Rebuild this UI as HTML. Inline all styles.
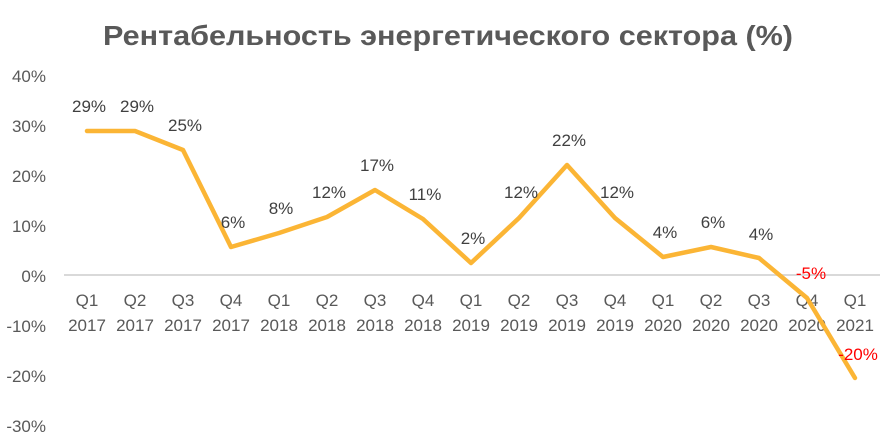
<!DOCTYPE html>
<html><head><meta charset="utf-8"><style>
body{margin:0;background:#fff;width:888px;height:442px;overflow:hidden}
svg text{font-family:"Liberation Sans",sans-serif}
</style></head><body>
<svg width="888" height="442" viewBox="0 0 888 442" xmlns="http://www.w3.org/2000/svg">
<text x="448" y="45" text-anchor="middle" font-size="28" font-weight="bold" fill="#595959" textLength="690" lengthAdjust="spacingAndGlyphs">Рентабельность энергетического сектора (%)</text>
<g font-size="17" fill="#595959" text-anchor="end">
<text x="46" y="82">40%</text><text x="46" y="132">30%</text><text x="46" y="182">20%</text><text x="46" y="232">10%</text><text x="46" y="282">0%</text><text x="46" y="332">-10%</text><text x="46" y="382">-20%</text><text x="46" y="432">-30%</text>
</g>
<line x1="64" y1="275" x2="880" y2="275" stroke="#d9d9d9" stroke-width="2"/>
<g font-size="17" fill="#595959" text-anchor="middle">
<text x="87" y="306">Q1</text><text x="87" y="331">2017</text>
<text x="135" y="306">Q2</text><text x="135" y="331">2017</text>
<text x="183" y="306">Q3</text><text x="183" y="331">2017</text>
<text x="231" y="306">Q4</text><text x="231" y="331">2017</text>
<text x="279" y="306">Q1</text><text x="279" y="331">2018</text>
<text x="327" y="306">Q2</text><text x="327" y="331">2018</text>
<text x="375" y="306">Q3</text><text x="375" y="331">2018</text>
<text x="423" y="306">Q4</text><text x="423" y="331">2018</text>
<text x="471" y="306">Q1</text><text x="471" y="331">2019</text>
<text x="519" y="306">Q2</text><text x="519" y="331">2019</text>
<text x="567" y="306">Q3</text><text x="567" y="331">2019</text>
<text x="615" y="306">Q4</text><text x="615" y="331">2019</text>
<text x="663" y="306">Q1</text><text x="663" y="331">2020</text>
<text x="711" y="306">Q2</text><text x="711" y="331">2020</text>
<text x="759" y="306">Q3</text><text x="759" y="331">2020</text>
<text x="807" y="306">Q4</text><text x="807" y="331">2020</text>
<text x="855" y="306">Q1</text><text x="855" y="331">2021</text>
</g>
<polyline fill="none" stroke="#FBB535" stroke-width="4.5" stroke-linejoin="round" stroke-linecap="round"
points="87,131 135,131 183,150 231,247 279,233 327,217 375,190 423,219 471,263 519,218 567,165 615,218 663,257 711,247 759,258 807,298 855,378"/>
<g font-size="17" fill="#404040" text-anchor="middle">
<text x="89" y="112">29%</text><text x="137" y="112">29%</text><text x="185" y="131">25%</text>
<text x="233" y="228">6%</text><text x="281" y="214">8%</text><text x="329" y="198">12%</text>
<text x="377" y="171">17%</text><text x="425" y="200">11%</text><text x="473" y="244">2%</text>
<text x="521" y="198">12%</text><text x="569" y="146">22%</text><text x="617" y="198">12%</text>
<text x="665" y="238">4%</text><text x="713" y="228">6%</text><text x="761" y="240">4%</text>
</g>
<g font-size="17" fill="#ff0000" text-anchor="middle">
<text x="811" y="279">-5%</text><text x="858" y="360">-20%</text>
</g>
</svg>
</body></html>
